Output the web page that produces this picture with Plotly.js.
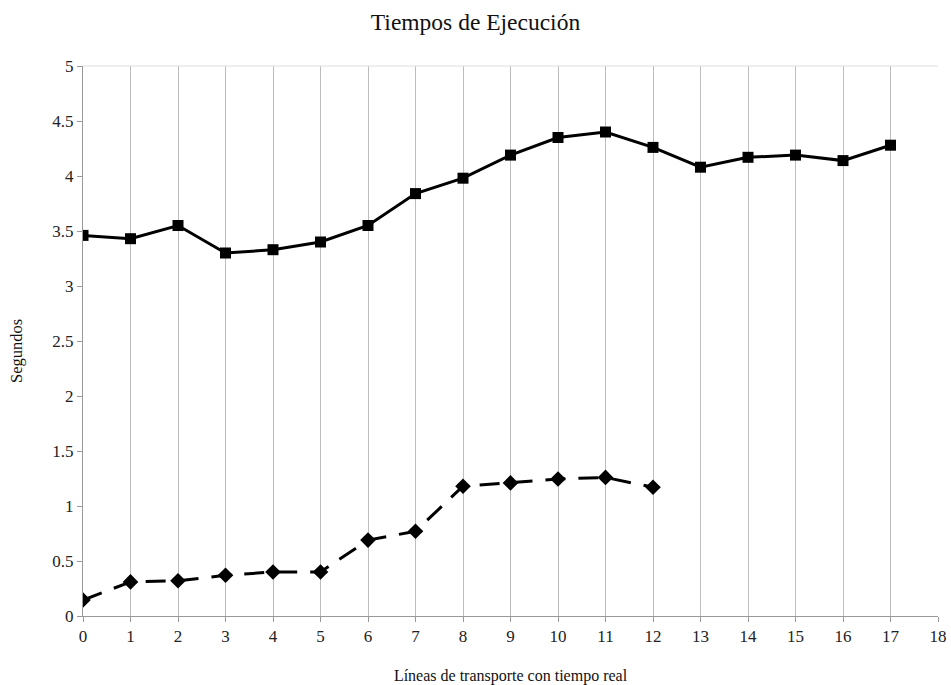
<!DOCTYPE html>
<html><head><meta charset="utf-8">
<script src="https://cdn.plot.ly/plotly-3.0.1.min.js"></script>
<style>body{margin:0;background:#fff}</style>
</head><body>
<div id="chart" style="width:951px;height:685px"></div>
<script>
const xTop = [0,1,2,3,4,5,6,7,8,9,10,11,12,13,14,15,16,17];
const yTop = [3.46,3.43,3.55,3.30,3.33,3.40,3.55,3.84,3.98,4.19,4.35,4.40,4.26,4.08,4.17,4.19,4.14,4.28];
const xBottom = [0,1,2,3,4,5,6,7,8,9,10,11,12];
const yBottom = [0.145,0.31,0.32,0.37,0.40,0.40,0.69,0.77,1.18,1.21,1.245,1.26,1.17];
const xTicks = [0,1,2,3,4,5,6,7,8,9,10,11,12,13,14,15,16,17,18];
const yTicks = [0,0.5,1,1.5,2,2.5,3,3.5,4,4.5,5];
const yTickText = ['0','0.5','1','1.5','2','2.5','3','3.5','4','4.5','5'];

const font = 'Liberation Serif, Times New Roman, serif';
const data = [
  {x:xTop, y:yTop, type:'scatter', mode:'lines+markers',
   line:{color:'#000', width:3}, marker:{symbol:'square', size:11, color:'#000'}},
  {x:xBottom, y:yBottom, type:'scatter', mode:'lines+markers',
   line:{color:'#000', width:3, dash:'20px,13px'}, marker:{symbol:'diamond', size:12, color:'#000'}}
];
const layout = {
  width:951, height:685,
  margin:{l:83, r:13, t:66, b:69},
  showlegend:false,
  paper_bgcolor:'#fff', plot_bgcolor:'#fff',
  font:{family:font, color:'#222', size:16},
  title:{text:'Tiempos de Ejecución', font:{family:font, size:23.5, color:'#111'}, x:0.5, xanchor:'center', y:0.968, yanchor:'middle'},
  xaxis:{range:[0,18], tickvals:xTicks, ticktext:xTicks.map(String), showgrid:true, gridcolor:'#bdbdbd', gridwidth:1,
    zeroline:false, showline:true, linecolor:'#999', linewidth:1, ticks:'outside', ticklen:5, tickcolor:'#999',
    title:{text:'Líneas de transporte con tiempo real', font:{family:font, size:16, color:'#111'}, standoff:26},
    tickfont:{family:font, size:17, color:'#222'}},
  yaxis:{range:[0,5], tickvals:yTicks, ticktext:yTickText, showgrid:false, zeroline:false,
    showline:true, linecolor:'#999', linewidth:1, ticks:'outside', ticklen:5, tickcolor:'#999',
    tickfont:{family:font, size:17, color:'#222'}},
  annotations:[{text:'Segundos', xref:'paper', yref:'paper', x:-0.0772, y:0.482, xanchor:'center', yanchor:'middle',
    textangle:-90, showarrow:false, font:{family:font, size:16.5, color:'#111'}}],
  shapes:[{type:'line', xref:'paper', yref:'paper', x0:0, x1:1, y0:1, y1:1, line:{color:'#ddd', width:1}}]
};
Plotly.newPlot('chart', data, layout, {displayModeBar:false, staticPlot:true});
</script>
</body></html>
